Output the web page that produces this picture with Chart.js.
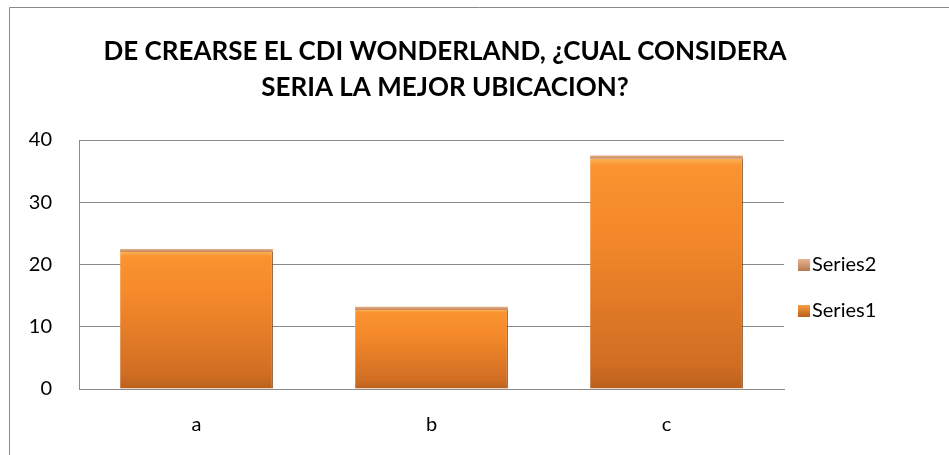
<!DOCTYPE html>
<html>
<head>
<meta charset="utf-8">
<script src="https://cdn.jsdelivr.net/npm/chart.js@4/dist/chart.umd.min.js"></script>
<style>
  html, body { margin: 0; padding: 0; background: #fff; }
  #wrap { position: relative; width: 949px; height: 455px; }
</style>
</head>
<body>
<div id="wrap"><canvas id="barChart" width="949" height="455"></canvas></div>
<script>
// chart data
const categories = ['a', 'b', 'c'];
const series1 = [22, 12.7, 37];
const series2 = [0.5, 0.5, 0.5];
const seriesNames = ['Series1', 'Series2'];
const titleLines = ['DE CREARSE EL CDI WONDERLAND, \u00BFCUAL CONSIDERA', 'SERIA LA MEJOR UBICACION?'];
const yTicks = [0, 10, 20, 30, 40];

const FONT = "Lato, 'Open Sans', sans-serif";

// gradient that follows each bar (light bevel on top, darker at the bottom)
function barGradient(ctx, stops) {
    const chart = ctx.chart;
    if (!chart.chartArea || ctx.type !== 'data') return stops[1][1];
    const yScale = chart.scales.y;
    let below = 0;
    for (let i = 0; i < ctx.datasetIndex; i++) below += chart.data.datasets[i].data[ctx.dataIndex];
    const top = yScale.getPixelForValue(below + ctx.raw);
    const bottom = yScale.getPixelForValue(below);
    if (!isFinite(top) || !isFinite(bottom) || bottom - top < 0.5) return stops[1][1];
    const g = chart.ctx.createLinearGradient(0, top, 0, bottom);
    stops.forEach(s => g.addColorStop(s[0], s[1]));
    return g;
}

const s1Stops = [[0, '#f9b253'], [0.03, '#fb9330'], [0.35, '#f3882a'], [0.9, '#cf6d23'], [1, '#b9601d']];
const s2Stops = [[0, '#e8b08a'], [1, '#c4845a']];

// frame, title and legend drawn around the chart
const decorPlugin = {
    id: 'decor',
    beforeDraw(chart) {
        const c = chart.ctx;
        c.save();
        c.strokeStyle = '#8a8a8a';
        c.lineWidth = 1;
        c.beginPath();
        c.moveTo(9.5, 460);
        c.lineTo(9.5, 7.5);
        c.lineTo(960, 7.5);
        c.stroke();
        c.restore();
    },
    afterDraw(chart) {
        const c = chart.ctx;
        c.save();
        c.fillStyle = '#000';
        c.font = "bold 26px " + FONT;
        c.textAlign = 'center';
        c.textBaseline = 'middle';
        c.fillText(titleLines[0], 445, 52);
        c.fillText(titleLines[1], 445, 88);

        // legend, Series2 above Series1
        const items = [
            { name: seriesNames[1], top: '#eab48f', bottom: '#b8784f', y: 265 },
            { name: seriesNames[0], top: '#f7a040', bottom: '#b85f1a', y: 311 }
        ];
        c.font = "20px " + FONT;
        c.textAlign = 'left';
        items.forEach(it => {
            const g = c.createLinearGradient(0, it.y - 6, 0, it.y + 6);
            g.addColorStop(0, it.top);
            g.addColorStop(1, it.bottom);
            c.fillStyle = g;
            c.fillRect(798, it.y - 6, 12, 12);
            c.fillStyle = '#000';
            c.fillText(it.name, 812, it.y);
        });
        c.restore();
    }
};

const ctx = document.getElementById('barChart').getContext('2d');
new Chart(ctx, {
    type: 'bar',
    data: {
        labels: categories,
        datasets: [
            {
                label: seriesNames[0],
                data: series1,
                backgroundColor: c => barGradient(c, s1Stops),
                borderColor: '#7e4112',
                borderWidth: { left: 0, top: 0, right: 1, bottom: 0 },
                borderSkipped: false,
                categoryPercentage: 1,
                barPercentage: 0.65
            },
            {
                label: seriesNames[1],
                data: series2,
                backgroundColor: c => barGradient(c, s2Stops),
                borderWidth: 0,
                categoryPercentage: 1,
                barPercentage: 0.65
            }
        ]
    },
    options: {
        responsive: false,
        animation: false,
        layout: { padding: { left: 9, right: 165, top: 140, bottom: 0 } },
        scales: {
            x: {
                stacked: true,
                grid: { display: false, drawTicks: false },
                border: { display: true, color: '#8a8a8a', width: 1 },
                ticks: { color: '#000', font: { family: FONT, size: 20 }, padding: 24 },
                afterFit(scale) { scale.height = 66; }
            },
            y: {
                stacked: true,
                min: 0,
                max: 40,
                afterBuildTicks(scale) { scale.ticks = yTicks.map(v => ({ value: v })); },
                grid: { color: '#8a8a8a', lineWidth: 1, drawTicks: false },
                border: { display: true, color: '#8a8a8a', width: 1 },
                ticks: { color: '#000', font: { family: FONT, size: 20 }, padding: 27 },
                afterFit(scale) { scale.width = 70; }
            }
        },
        plugins: {
            legend: { display: false },
            title: { display: false },
            tooltip: { enabled: false }
        }
    },
    plugins: [decorPlugin]
});
</script>
</body>
</html>
